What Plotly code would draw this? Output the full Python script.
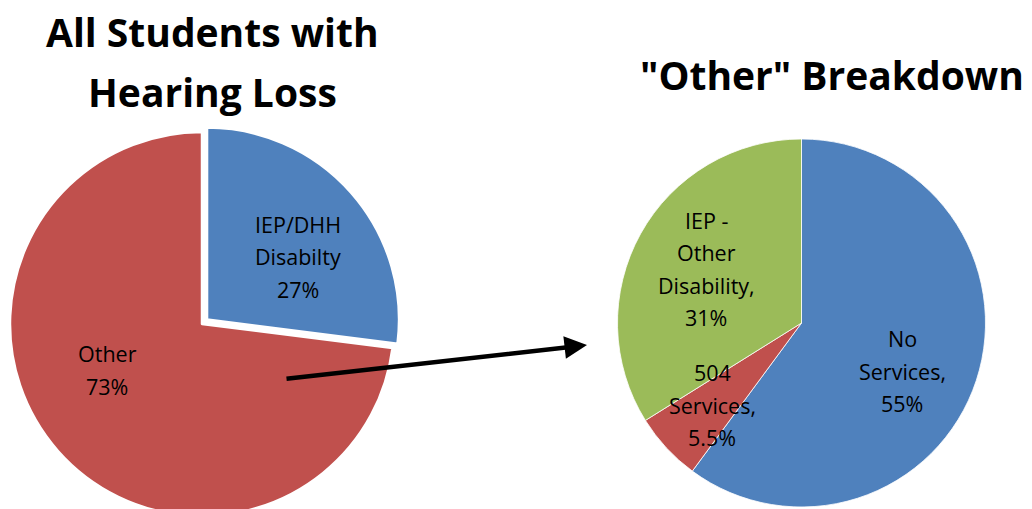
import plotly.graph_objects as go

W, H = 1032, 540  # figure is slightly taller than the window; the pies are cut at the bottom

# ---- data ----
all_lines = [["IEP/DHH", "Disabilty"], ["Other"]]
all_values = [27, 73]
all_colors = ["#4F81BD", "#C0504D"]
all_pull = [0.035, 0]

other_lines = [["No", "Services,"], ["504", "Services,"], ["IEP -", "Other", "Disability,"]]
other_values = [55, 5.5, 31]
other_colors = ["#4F81BD", "#C0504D", "#9BBB59"]

title_left = "All Students with<br>Hearing Loss"
title_right = '"Other" Breakdown'

# label block centres (pixels)
all_label_pos = [(298, 257), (107, 370)]
other_label_pos = [(902, 371), (712, 405), (706, 269)]

FONT = "Open Sans"
LABEL_SIZE = 21.5
LABEL_STEP = 32.5
TITLE_SIZE = 39


def px(x, y):
    return x / W, 1 - y / H


def dom(cx, cy, r, pull=0.0):
    R = r * (1 + pull)
    return dict(x=[(cx - R) / W, (cx + R) / W], y=[1 - (cy + R) / H, 1 - (cy - R) / H])


fig = go.Figure()
fig.add_trace(go.Pie(
    labels=[" ".join(l) for l in all_lines], values=all_values,
    sort=False, direction="clockwise", rotation=0, pull=all_pull,
    marker=dict(colors=all_colors, line=dict(color="white", width=2.5)),
    textinfo="none", showlegend=False,
    domain=dom(202, 324, 192, max(all_pull)),
))
fig.add_trace(go.Pie(
    labels=[" ".join(l) for l in other_lines], values=other_values,
    sort=False, direction="clockwise", rotation=0,
    marker=dict(colors=other_colors, line=dict(color="white", width=0.8)),
    textinfo="none", showlegend=False,
    domain=dom(801.5, 323, 184),
))

annotations = []


def add_block(lines, cx, cy, step, size, bold=False):
    n = len(lines)
    for i, t in enumerate(lines):
        y = cy + (i - (n - 1) / 2) * step
        xx, yy = px(cx, y)
        annotations.append(dict(
            text=f"<b>{t}</b>" if bold else t, x=xx, y=yy, xref="paper", yref="paper",
            xanchor="center", yanchor="middle", showarrow=False,
            font=dict(family=FONT, size=size, color="black"),
        ))


for lines, v, (x, y) in list(zip(all_lines, all_values, all_label_pos)) + list(zip(other_lines, other_values, other_label_pos)):
    add_block(lines + [f"{v:g}%"], x, y, LABEL_STEP, LABEL_SIZE)

add_block(title_left.split("<br>"), 212, 61.5, 59, TITLE_SIZE, bold=True)
add_block([title_right], 832, 74, 0, TITLE_SIZE, bold=True)

# arrow from "Other" slice to breakdown pie
ax_tip, ay_tip = px(587, 345)
annotations.append(dict(text="", x=ax_tip, y=ay_tip, xref="paper", yref="paper",
                        ax=285 - 587, ay=379 - 345, showarrow=True,
                        arrowhead=2, arrowsize=1.0, arrowwidth=4.5, arrowcolor="black"))

fig.update_layout(
    width=W, height=H, margin=dict(l=0, r=0, t=0, b=0),
    paper_bgcolor="white", plot_bgcolor="white",
    annotations=annotations,
)

post = (
    "document.body.style.margin='0';"
    "document.documentElement.style.overflow='hidden';"
    "document.body.style.overflow='hidden';"
    "var p=document.getElementById('{plot_id}').parentElement;"
    "p.style.height='509px';p.style.overflow='hidden';"
)
fig.write_html("out.html", post_script=post, config={"displayModeBar": False})
